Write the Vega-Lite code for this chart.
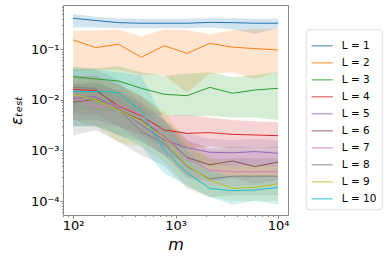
{
  "$schema": "https://vega.github.io/schema/vega-lite/v6.json",
  "width": 225,
  "height": 210,
  "autosize": {"type": "none"},
  "padding": {"left": 63, "top": 5, "right": 101, "bottom": 44},
  "config": {
    "font": "DejaVu Sans",
    "view": {"stroke": "#888", "strokeWidth": 1},
    "axis": {"grid": false, "domain": false, "tickColor": "#888", "labelColor": "#000", "titleColor": "#000", "titleFontWeight": "normal"}
  },
  "data": {"values": [
    {"m":100,"L":"L = 1","y":0.41,"lo":0.27,"hi":0.5},
    {"m":167,"L":"L = 1","y":0.37,"lo":0.27,"hi":0.44},
    {"m":278,"L":"L = 1","y":0.336,"lo":0.26,"hi":0.41},
    {"m":464,"L":"L = 1","y":0.327,"lo":0.26,"hi":0.4},
    {"m":774,"L":"L = 1","y":0.327,"lo":0.26,"hi":0.4},
    {"m":1292,"L":"L = 1","y":0.327,"lo":0.26,"hi":0.4},
    {"m":2154,"L":"L = 1","y":0.34,"lo":0.27,"hi":0.41},
    {"m":3594,"L":"L = 1","y":0.336,"lo":0.25,"hi":0.41},
    {"m":5995,"L":"L = 1","y":0.327,"lo":0.2,"hi":0.4},
    {"m":10000,"L":"L = 1","y":0.327,"lo":0.26,"hi":0.4},

    {"m":100,"L":"L = 2","y":0.153,"lo":0.037,"hi":0.234},
    {"m":167,"L":"L = 2","y":0.108,"lo":0.039,"hi":0.234},
    {"m":278,"L":"L = 2","y":0.126,"lo":0.039,"hi":0.249},
    {"m":464,"L":"L = 2","y":0.0695,"lo":0.031,"hi":0.178},
    {"m":774,"L":"L = 2","y":0.118,"lo":0.031,"hi":0.249},
    {"m":1292,"L":"L = 2","y":0.083,"lo":0.0139,"hi":0.24},
    {"m":2154,"L":"L = 2","y":0.131,"lo":0.0325,"hi":0.198},
    {"m":3594,"L":"L = 2","y":0.11,"lo":0.0346,"hi":0.24},
    {"m":5995,"L":"L = 2","y":0.103,"lo":0.0259,"hi":0.249},
    {"m":10000,"L":"L = 2","y":0.097,"lo":0.036,"hi":0.249},

    {"m":100,"L":"L = 3","y":0.0288,"lo":0.006,"hi":0.045},
    {"m":167,"L":"L = 3","y":0.0259,"lo":0.006,"hi":0.042},
    {"m":278,"L":"L = 3","y":0.0236,"lo":0.006,"hi":0.046},
    {"m":464,"L":"L = 3","y":0.0169,"lo":0.005,"hi":0.035},
    {"m":774,"L":"L = 3","y":0.0129,"lo":0.005,"hi":0.03},
    {"m":1292,"L":"L = 3","y":0.0121,"lo":0.0048,"hi":0.033},
    {"m":2154,"L":"L = 3","y":0.0177,"lo":0.0048,"hi":0.035},
    {"m":3594,"L":"L = 3","y":0.0135,"lo":0.0045,"hi":0.028},
    {"m":5995,"L":"L = 3","y":0.0157,"lo":0.0045,"hi":0.031},
    {"m":10000,"L":"L = 3","y":0.0169,"lo":0.004,"hi":0.036},

    {"m":100,"L":"L = 4","y":0.0162,"lo":0.005,"hi":0.03},
    {"m":167,"L":"L = 4","y":0.0152,"lo":0.005,"hi":0.03},
    {"m":278,"L":"L = 4","y":0.0076,"lo":0.003,"hi":0.02},
    {"m":464,"L":"L = 4","y":0.0048,"lo":0.002,"hi":0.012},
    {"m":774,"L":"L = 4","y":0.00254,"lo":0.0012,"hi":0.005},
    {"m":1292,"L":"L = 4","y":0.00218,"lo":0.0011,"hi":0.005},
    {"m":2154,"L":"L = 4","y":0.00225,"lo":0.0012,"hi":0.0045},
    {"m":3594,"L":"L = 4","y":0.00208,"lo":0.0011,"hi":0.004},
    {"m":5995,"L":"L = 4","y":0.00202,"lo":0.0011,"hi":0.0038},
    {"m":10000,"L":"L = 4","y":0.00196,"lo":0.0011,"hi":0.0036},

    {"m":100,"L":"L = 5","y":0.0107,"lo":0.004,"hi":0.02},
    {"m":167,"L":"L = 5","y":0.0116,"lo":0.004,"hi":0.022},
    {"m":278,"L":"L = 5","y":0.0068,"lo":0.003,"hi":0.014},
    {"m":464,"L":"L = 5","y":0.0032,"lo":0.0015,"hi":0.007},
    {"m":774,"L":"L = 5","y":0.00161,"lo":0.0008,"hi":0.003},
    {"m":1292,"L":"L = 5","y":0.00114,"lo":0.0006,"hi":0.0022},
    {"m":2154,"L":"L = 5","y":0.00092,"lo":0.0005,"hi":0.0017},
    {"m":3594,"L":"L = 5","y":0.0009,"lo":0.0005,"hi":0.0016},
    {"m":5995,"L":"L = 5","y":0.00095,"lo":0.0005,"hi":0.0017},
    {"m":10000,"L":"L = 5","y":0.00088,"lo":0.0005,"hi":0.0016},

    {"m":100,"L":"L = 6","y":0.009,"lo":0.003,"hi":0.02},
    {"m":167,"L":"L = 6","y":0.0103,"lo":0.003,"hi":0.022},
    {"m":278,"L":"L = 6","y":0.0063,"lo":0.002,"hi":0.015},
    {"m":464,"L":"L = 6","y":0.004,"lo":0.0015,"hi":0.009},
    {"m":774,"L":"L = 6","y":0.0019,"lo":0.0008,"hi":0.004},
    {"m":1292,"L":"L = 6","y":0.00073,"lo":0.0003,"hi":0.0016},
    {"m":2154,"L":"L = 6","y":0.00052,"lo":0.00025,"hi":0.0011},
    {"m":3594,"L":"L = 6","y":0.00062,"lo":0.00028,"hi":0.0012},
    {"m":5995,"L":"L = 6","y":0.00048,"lo":0.00022,"hi":0.0011},
    {"m":10000,"L":"L = 6","y":0.00059,"lo":0.00026,"hi":0.0012},

    {"m":100,"L":"L = 7","y":0.0116,"lo":0.004,"hi":0.022},
    {"m":167,"L":"L = 7","y":0.0073,"lo":0.003,"hi":0.016},
    {"m":278,"L":"L = 7","y":0.0079,"lo":0.003,"hi":0.016},
    {"m":464,"L":"L = 7","y":0.005,"lo":0.002,"hi":0.011},
    {"m":774,"L":"L = 7","y":0.00187,"lo":0.0008,"hi":0.0045},
    {"m":1292,"L":"L = 7","y":0.0007,"lo":0.0003,"hi":0.0016},
    {"m":2154,"L":"L = 7","y":0.00041,"lo":0.0002,"hi":0.001},
    {"m":3594,"L":"L = 7","y":0.00038,"lo":0.0002,"hi":0.001},
    {"m":5995,"L":"L = 7","y":0.00038,"lo":0.0002,"hi":0.001},
    {"m":10000,"L":"L = 7","y":0.00038,"lo":0.0002,"hi":0.001},

    {"m":100,"L":"L = 8","y":0.0177,"lo":0.002,"hi":0.04},
    {"m":167,"L":"L = 8","y":0.0169,"lo":0.0025,"hi":0.04},
    {"m":278,"L":"L = 8","y":0.0065,"lo":0.0015,"hi":0.025},
    {"m":464,"L":"L = 8","y":0.00236,"lo":0.0008,"hi":0.008},
    {"m":774,"L":"L = 8","y":0.00138,"lo":0.0005,"hi":0.004},
    {"m":1292,"L":"L = 8","y":0.00048,"lo":0.00018,"hi":0.0012},
    {"m":2154,"L":"L = 8","y":0.000274,"lo":0.00012,"hi":0.0007},
    {"m":3594,"L":"L = 8","y":0.00031,"lo":0.00013,"hi":0.0007},
    {"m":5995,"L":"L = 8","y":0.00031,"lo":0.00013,"hi":0.0007},
    {"m":10000,"L":"L = 8","y":0.00031,"lo":0.00013,"hi":0.0007},

    {"m":100,"L":"L = 9","y":0.0129,"lo":0.004,"hi":0.03},
    {"m":167,"L":"L = 9","y":0.00995,"lo":0.003,"hi":0.025},
    {"m":278,"L":"L = 9","y":0.0063,"lo":0.0014,"hi":0.02},
    {"m":464,"L":"L = 9","y":0.0037,"lo":0.0012,"hi":0.012},
    {"m":774,"L":"L = 9","y":0.00178,"lo":0.0006,"hi":0.006},
    {"m":1292,"L":"L = 9","y":0.00051,"lo":0.0002,"hi":0.0015},
    {"m":2154,"L":"L = 9","y":0.00026,"lo":0.00012,"hi":0.0007},
    {"m":3594,"L":"L = 9","y":0.000179,"lo":0.0001,"hi":0.0005},
    {"m":5995,"L":"L = 9","y":0.000186,"lo":0.0001,"hi":0.0005},
    {"m":10000,"L":"L = 9","y":0.00022,"lo":0.0001,"hi":0.0005},

    {"m":100,"L":"L = 10","y":0.0146,"lo":0.003,"hi":0.042},
    {"m":167,"L":"L = 10","y":0.0146,"lo":0.003,"hi":0.04},
    {"m":278,"L":"L = 10","y":0.0139,"lo":0.002,"hi":0.035},
    {"m":464,"L":"L = 10","y":0.0058,"lo":0.0012,"hi":0.03},
    {"m":774,"L":"L = 10","y":0.00102,"lo":0.00035,"hi":0.004},
    {"m":1292,"L":"L = 10","y":0.00036,"lo":0.0002,"hi":0.001},
    {"m":2154,"L":"L = 10","y":0.000178,"lo":0.00012,"hi":0.0004},
    {"m":3594,"L":"L = 10","y":0.00016,"lo":0.000085,"hi":0.0003},
    {"m":5995,"L":"L = 10","y":0.000166,"lo":0.0001,"hi":0.0003},
    {"m":10000,"L":"L = 10","y":0.000186,"lo":0.000085,"hi":0.0003}
  ]},
  "encoding": {
    "x": {
      "field": "m", "type": "quantitative",
      "scale": {"type": "log", "domain": [79.8, 12500], "nice": false},
      "axis": {
        "title": "m", "titleFontStyle": "italic", "titleFontSize": 16, "titleFont": "DejaVu Sans", "titlePadding": 4,
        "values": [80,90,100,200,300,400,500,600,700,800,900,1000,2000,3000,4000,5000,6000,7000,8000,9000,10000],
        "labelExpr": "datum.value == 100 ? '10²' : datum.value == 1000 ? '10³' : datum.value == 10000 ? '10⁴' : ''",
        "labelFontSize": 13, "labelPadding": 1, "labelFlush": false, "labelOverlap": false,
        "tickSize": {"condition": {"test": "indexof([100,1000,10000], datum.value) >= 0", "value": 3}, "value": 1.5}
      }
    },
    "color": {
      "field": "L", "type": "nominal",
      "scale": {
        "domain": ["L = 1","L = 2","L = 3","L = 4","L = 5","L = 6","L = 7","L = 8","L = 9","L = 10"],
        "range": ["#1f77b4","#ff7f0e","#2ca02c","#d62728","#9467bd","#8c564b","#e377c2","#7f7f7f","#bcbd22","#17becf"]
      },
      "legend": {
        "title": null, "orient": "none", "legendX": 242.7, "legendY": 24.3,
        "strokeColor": "#ddd", "cornerRadius": 3, "fillColor": "white", "padding": 5,
        "symbolType": "stroke", "symbolSize": 450, "symbolStrokeWidth": 1.5, "symbolOpacity": 0.6,
        "labelFontSize": 10.5, "labelOffset": 8, "rowPadding": -5.3, "labelColor": "#000"
      }
    }
  },
  "layer": [
    {
      "mark": {"type": "area", "opacity": 0.2, "clip": true},
      "encoding": {
        "y": {"field": "lo", "type": "quantitative"},
        "y2": {"field": "hi"}
      }
    },
    {
      "mark": {"type": "line", "strokeWidth": 1, "clip": true},
      "encoding": {
        "y": {
          "field": "y", "type": "quantitative",
          "scale": {"type": "log", "domain": [0.000053, 0.75], "nice": false},
          "axis": {
            "title": "εₜₑₛₜ", "titleFontStyle": "italic", "titleFontSize": 15, "titlePadding": 6,
            "values": [0.00006,0.00007,0.00008,0.00009,0.0001,0.0002,0.0003,0.0004,0.0005,0.0006,0.0007,0.0008,0.0009,0.001,0.002,0.003,0.004,0.005,0.006,0.007,0.008,0.009,0.01,0.02,0.03,0.04,0.05,0.06,0.07,0.08,0.09,0.1,0.2,0.3,0.4,0.5,0.6,0.7],
            "labelExpr": "datum.value == 0.0001 ? '10⁻⁴' : datum.value == 0.001 ? '10⁻³' : datum.value == 0.01 ? '10⁻²' : datum.value == 0.1 ? '10⁻¹' : ''",
            "labelFontSize": 13, "labelPadding": 1, "labelFlush": false, "labelOverlap": false,
            "tickSize": {"condition": {"test": "indexof([0.0001,0.001,0.01,0.1], datum.value) >= 0", "value": 3}, "value": 1.5}
          }
        }
      }
    }
  ]
}
